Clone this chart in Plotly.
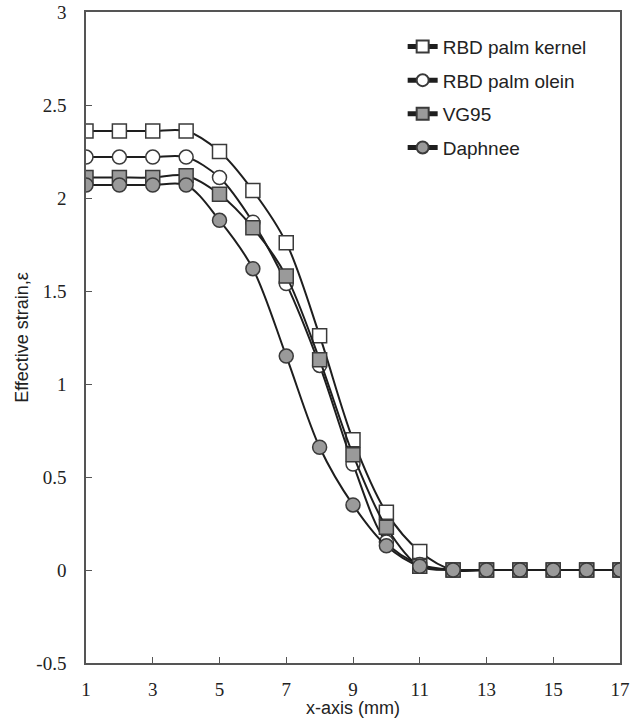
import plotly.graph_objects as go

x_mm = list(range(1, 18))
palm_kernel = [2.36, 2.36, 2.36, 2.36, 2.25, 2.04, 1.76, 1.26, 0.70, 0.31, 0.10, 0.0, 0.0, 0.0, 0.0, 0.0, 0.0]
palm_olein = [2.22, 2.22, 2.22, 2.22, 2.11, 1.87, 1.54, 1.10, 0.57, 0.15, 0.03, 0.0, 0.0, 0.0, 0.0, 0.0, 0.0]
vg95 = [2.11, 2.11, 2.11, 2.12, 2.02, 1.84, 1.58, 1.13, 0.62, 0.23, 0.02, 0.0, 0.0, 0.0, 0.0, 0.0, 0.0]
daphnee = [2.07, 2.07, 2.07, 2.07, 1.88, 1.62, 1.15, 0.66, 0.35, 0.13, 0.02, 0.0, 0.0, 0.0, 0.0, 0.0, 0.0]

series_names = ["RBD palm kernel", "RBD palm olein", "VG95", "Daphnee"]
series_values = [palm_kernel, palm_olein, vg95, daphnee]
symbols = ["square", "circle", "square", "circle"]
fills = ["white", "white", "#9a9a9a", "#9a9a9a"]

x_ticks = [1, 3, 5, 7, 9, 11, 13, 15, 17]
y_ticks = [-0.5, 0, 0.5, 1, 1.5, 2, 2.5, 3]

fig = go.Figure()
for i, (name, vals, sym, fc) in enumerate(zip(series_names, series_values, symbols, fills)):
    fig.add_trace(go.Scatter(
        x=x_mm, y=vals, name=name, mode="lines+markers",
        legendgroup=f"g{i}",
        line=dict(color="#1e1e1e", width=2, shape="spline", smoothing=0.9),
        marker=dict(symbol=sym, size=14, color=fc, line=dict(color="#3a3a3a", width=1.5)),
    ))

fig.update_layout(
    width=635, height=718,
    margin=dict(l=86, r=15, t=12, b=55),
    paper_bgcolor="white", plot_bgcolor="white",
    showlegend=True,
    legend=dict(
        x=0.593, y=0.976, xanchor="left", yanchor="top",
        font=dict(family="Liberation Sans, Arial", size=19, color="#222"),
        bgcolor="rgba(0,0,0,0)", itemsizing="constant",
        tracegroupgap=6,
    ),
    xaxis=dict(
        range=[1, 17], tickvals=x_ticks, ticktext=[str(v) for v in x_ticks],
        showgrid=False, zeroline=False, automargin=False,
        showline=True, linecolor="#555", linewidth=1.5, mirror=True,
        ticks="inside", ticklen=6, tickcolor="#555", ticklabelstandoff=8,
        ticklabeloverflow="allow",
        tickfont=dict(family="Liberation Serif, Times New Roman", size=19, color="#222"),
        title=dict(text="x-axis (mm)", font=dict(family="Liberation Sans, Arial", size=18, color="#222"), standoff=0),
    ),
    yaxis=dict(
        range=[-0.5, 3], tickvals=y_ticks, ticktext=[str(v) for v in y_ticks],
        showgrid=False, zeroline=False, automargin=False,
        showline=True, linecolor="#555", linewidth=1.5, mirror=True,
        ticks="inside", ticklen=6, tickcolor="#555", ticklabelstandoff=14,
        ticklabeloverflow="allow",
        tickfont=dict(family="Liberation Serif, Times New Roman", size=19, color="#222"),
        title=dict(text="Effective strain,ε", font=dict(family="Liberation Sans, Arial", size=18, color="#222"), standoff=3),
    ),
)

fig.write_html("out.html", config={"displayModeBar": False},
               post_script="document.body.style.margin='0';")
